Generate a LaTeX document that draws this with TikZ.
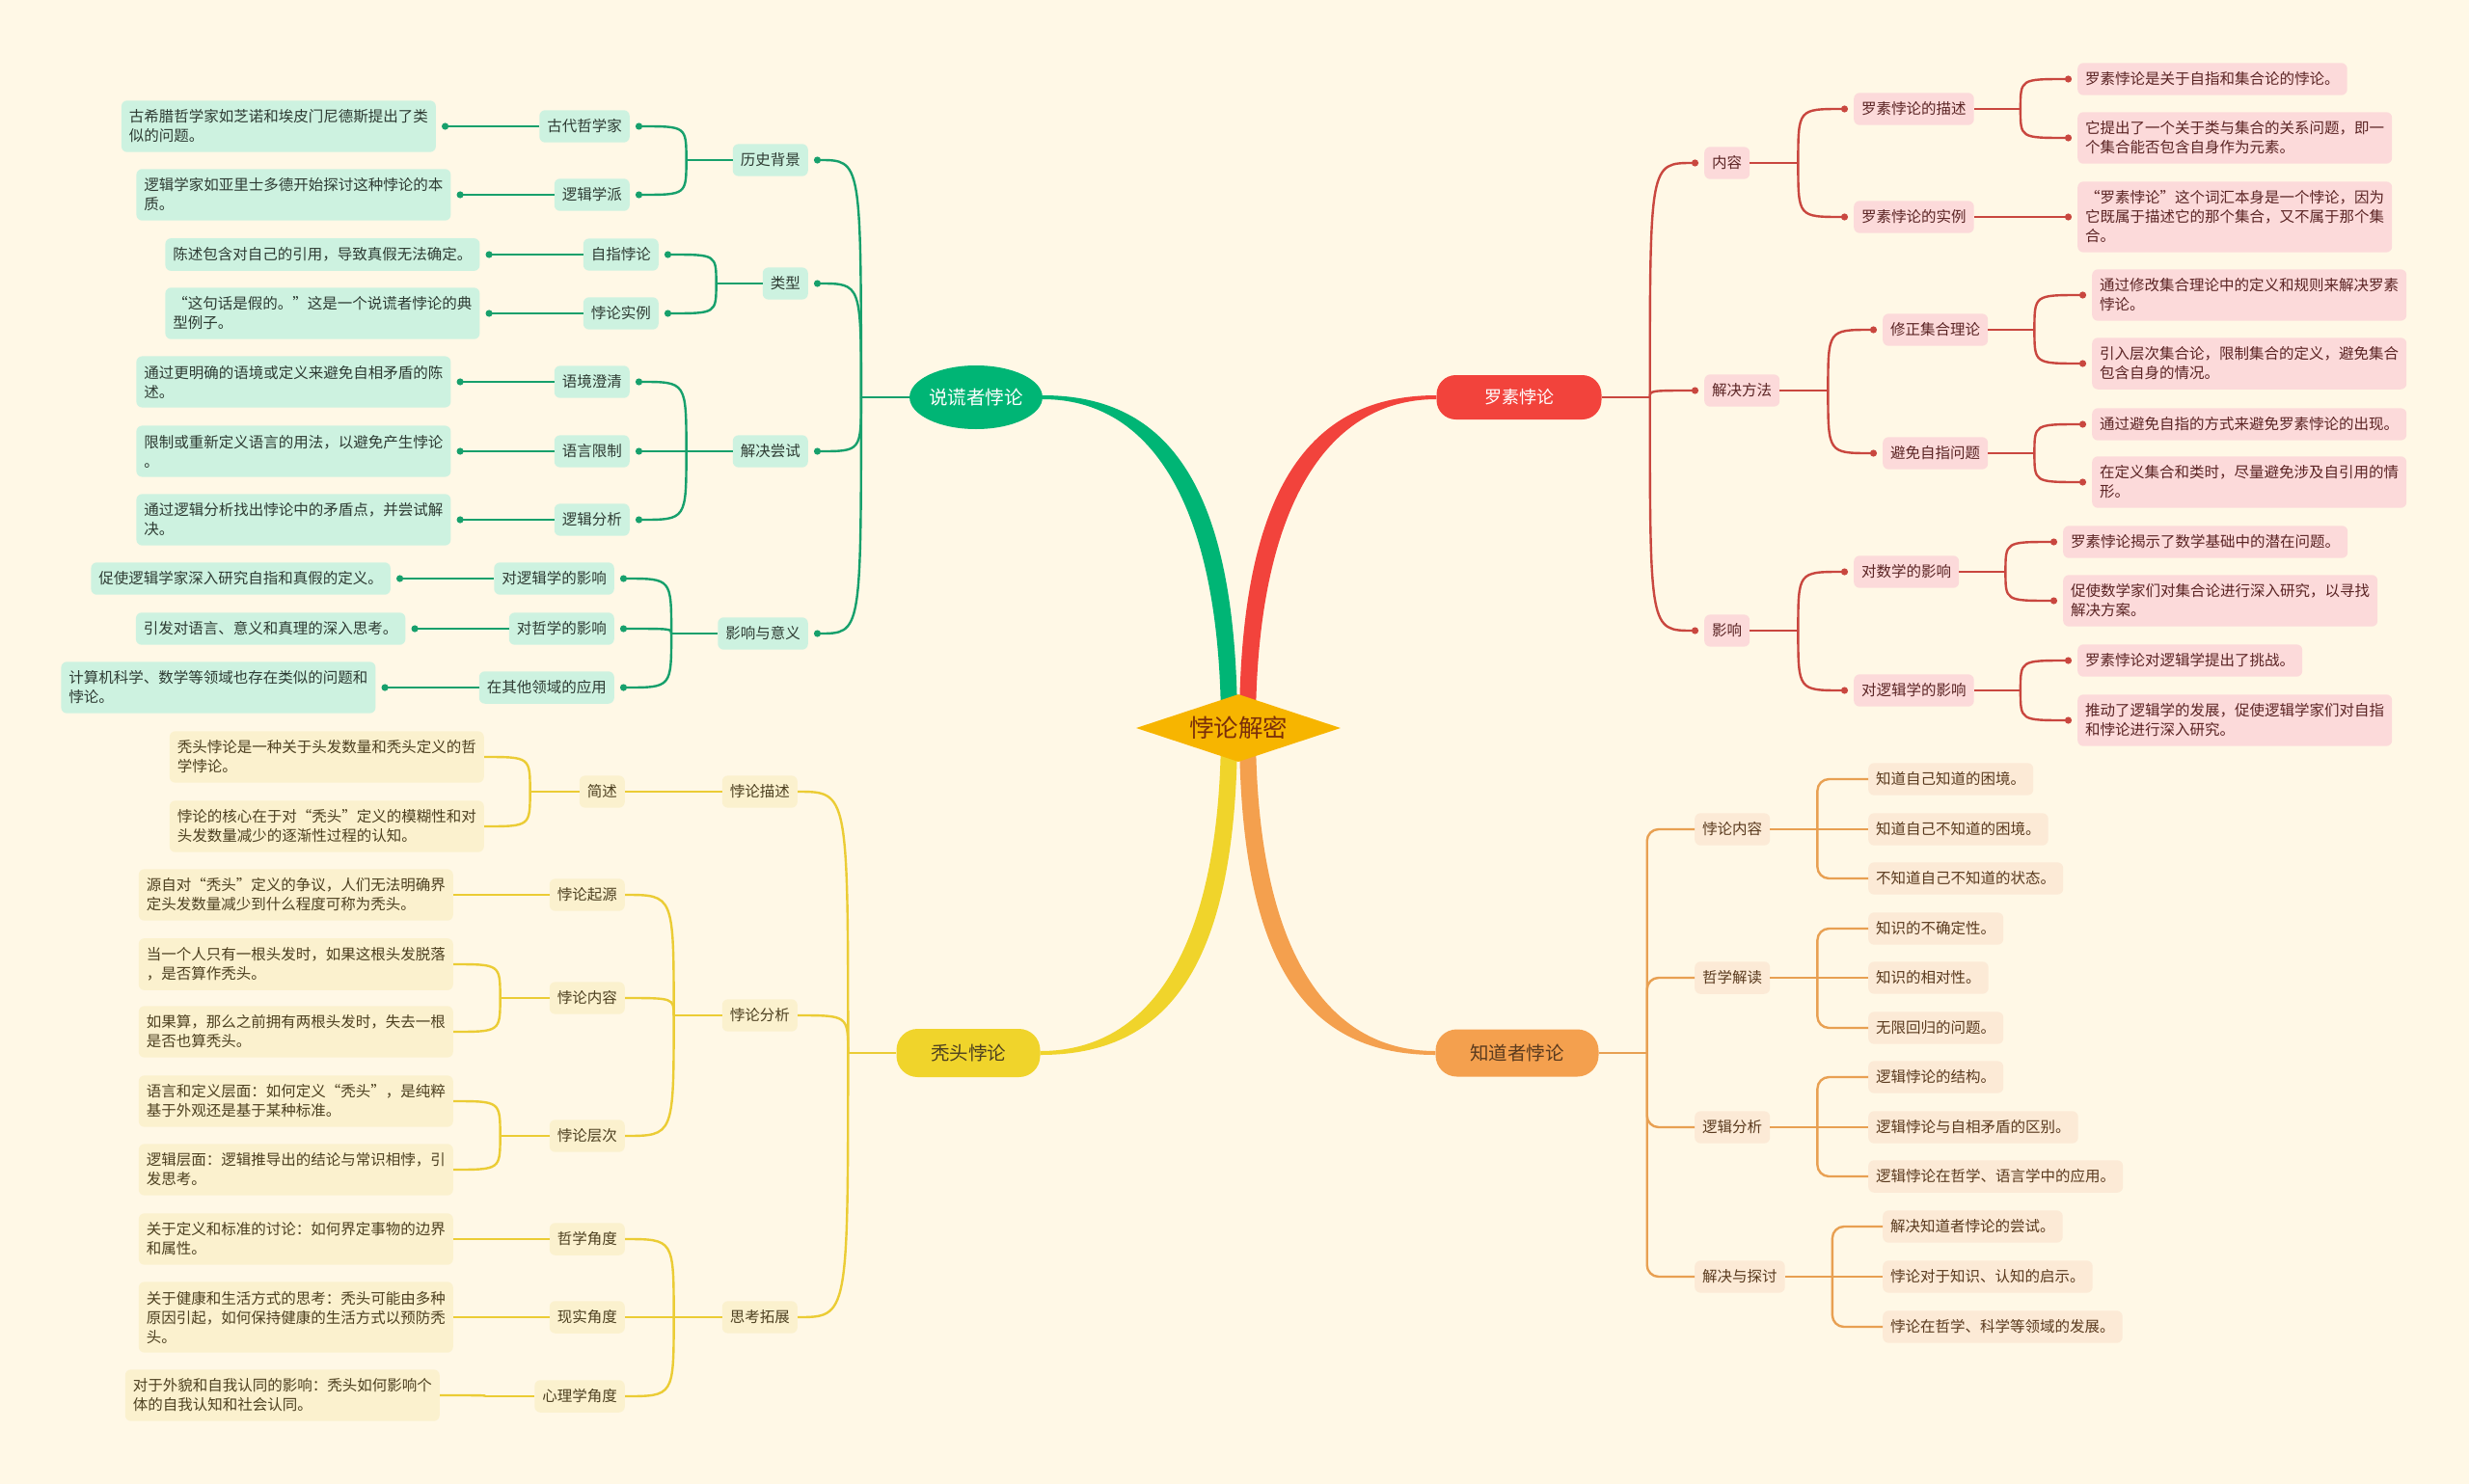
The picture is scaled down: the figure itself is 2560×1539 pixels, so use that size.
\documentclass[tikz,border=0pt]{standalone}
\usepackage{fontspec}
\setmainfont{Noto Sans CJK SC}
\usetikzlibrary{arrows.meta, positioning, calc, shapes.geometric}
\definecolor{fondo}{HTML}{FFF8E6}
\definecolor{centro}{HTML}{F7B500}
\definecolor{centrotxt}{HTML}{7A2E0A}
\definecolor{verde}{HTML}{00B575}
\definecolor{verdeln}{HTML}{17A06C}
\definecolor{verdeclaro}{HTML}{CDF2E0}
\definecolor{verdetxt}{HTML}{2E3B33}
\definecolor{rojo}{HTML}{F2433C}
\definecolor{rojoln}{HTML}{C9473F}
\definecolor{rojoclaro}{HTML}{FCDADA}
\definecolor{rojotxt}{HTML}{5B2424}
\definecolor{amarillo}{HTML}{F0D42B}
\definecolor{amarilloln}{HTML}{EBCC35}
\definecolor{amarilloclaro}{HTML}{FBF1CE}
\definecolor{amarillotxt}{HTML}{4D4020}
\definecolor{naranja}{HTML}{F4A04E}
\definecolor{naranjaln}{HTML}{E8A052}
\definecolor{naranjaclaro}{HTML}{FCEAD6}
\definecolor{naranjatxt}{HTML}{5A3A1E}
\tikzset{
  boxbase/.style={rounded corners=6pt, inner xsep=8pt, inner ysep=9.5pt, minimum height=33pt,
                  align=left, font=\fontsize{15.5}{20}\selectfont},
  gbox/.style={boxbase, fill=verdeclaro, text=verdetxt},
  rbox/.style={boxbase, fill=rojoclaro, text=rojotxt},
  ybox/.style={boxbase, fill=amarilloclaro, text=amarillotxt},
  obox/.style={boxbase, fill=naranjaclaro, text=naranjatxt},
  topic/.style={inner sep=0pt, font=\fontsize{19.5}{24}\selectfont},
  gline/.style={draw=verdeln, line width=2.4pt},
  rline/.style={draw=rojoln, line width=2.4pt},
  yline/.style={draw=amarilloln, line width=2.4pt},
  oline/.style={draw=naranjaln, line width=2.4pt},
  gdot/.style={-{Circle[length=7pt]}},
  rdot/.style={-{Circle[length=7pt]}},
}
\begin{document}
\begin{tikzpicture}[x=1pt, y=-1pt]
  \useasboundingbox (0,0) rectangle (2560,1539);
  \fill[fondo] (0,0) rectangle (2560,1539);
  \coordinate (c) at (1284,755);
  % ramas principales
  \node[topic, ellipse, fill=verde, text=white, minimum width=134pt, minimum height=66pt] (lsz) at (1012,412) {说谎者悖论};
  \node[topic, rounded corners=20pt, fill=rojo, text=white, minimum width=171pt, minimum height=46pt,
        font=\fontsize{18}{22}\selectfont] (ls) at (1575,412) {罗素悖论};
  \node[topic, rounded corners=22pt, fill=amarillo, text=amarillotxt, minimum width=149pt, minimum height=50pt] (tt) at (1004,1092) {秃头悖论};
  \node[topic, rounded corners=22pt, fill=naranja, text=naranjatxt, minimum width=169pt, minimum height=49pt] (zdz) at (1573,1092) {知道者悖论};
  \fill[verde] ($(c)+(-18,0)$) .. controls ($(c)+(-18,-225)$) and ($(lsz.east)+(116,2)$) .. ($(lsz.east)+(0,2)$)
    -- ($(lsz.east)+(0,-2)$) .. controls ($(lsz.east)+(131,-2)$) and ($(c)+(-1,-250)$) .. ($(c)+(-1,0)$) -- cycle;
  \fill[rojo] ($(c)+(18,0)$) .. controls ($(c)+(18,-225)$) and ($(ls.west)+(-116,2)$) .. ($(ls.west)+(0,2)$)
    -- ($(ls.west)+(0,-2)$) .. controls ($(ls.west)+(-131,-2)$) and ($(c)+(1,-250)$) .. ($(c)+(1,0)$) -- cycle;
  \fill[amarillo] ($(c)+(-18,0)$) .. controls ($(c)+(-18,225)$) and ($(tt.east)+(116,-2)$) .. ($(tt.east)+(0,-2)$)
    -- ($(tt.east)+(0,2)$) .. controls ($(tt.east)+(131,2)$) and ($(c)+(-1,250)$) .. ($(c)+(-1,0)$) -- cycle;
  \fill[naranja] ($(c)+(18,0)$) .. controls ($(c)+(18,225)$) and ($(zdz.west)+(-116,-2)$) .. ($(zdz.west)+(0,-2)$)
    -- ($(zdz.west)+(0,2)$) .. controls ($(zdz.west)+(-131,2)$) and ($(c)+(1,250)$) .. ($(c)+(1,0)$) -- cycle;
  \node[diamond, aspect=3, fill=centro, text=centrotxt, inner sep=0pt, minimum width=212pt, minimum height=70pt,
        font=\fontsize{25.5}{30}\selectfont] (cn) at (c) {悖论解密};

  % 说谎者悖论
  \foreach \n/\y/\t in {g1/166/历史背景, g2/294/类型, g3/468/解决尝试, g4/657/影响与意义}
    \node[gbox, anchor=east] (\n) at (838,\y) {\t};
  \foreach \n/\x/\y/\t in {g11/653/131/古代哲学家, g12/653/202/逻辑学派, g21/683/264/自指悖论, g22/683/325/悖论实例,
      g31/653/396/语境澄清, g32/653/468/语言限制, g33/653/539/逻辑分析,
      g41/637/600/对逻辑学的影响, g42/637/652/对哲学的影响, g43/637/713/在其他领域的应用}
    \node[gbox, anchor=east] (\n) at (\x,\y) {\t};
  \foreach \n/\t in {11/{古希腊哲学家如芝诺和埃皮门尼德斯提出了类\\似的问题。},
      12/{逻辑学家如亚里士多德开始探讨这种悖论的本\\质。},
      21/{陈述包含对自己的引用，导致真假无法确定。},
      22/{“这句话是假的。”这是一个说谎者悖论的典\\型例子。},
      31/{通过更明确的语境或定义来避免自相矛盾的陈\\述。},
      32/{限制或重新定义语言的用法，以避免产生悖论\\。},
      33/{通过逻辑分析找出悖论中的矛盾点，并尝试解\\决。},
      41/{促使逻辑学家深入研究自指和真假的定义。},
      42/{引发对语言、意义和真理的深入思考。},
      43/{计算机科学、数学等领域也存在类似的问题和\\悖论。}}
    \node[gbox, left=107pt of g\n] (gl\n) {\t};

  % 罗素悖论
  \foreach \n/\y/\t in {r1/169/内容, r2/405/解决方法, r3/654/影响}
    \node[rbox, anchor=west] (\n) at (1767,\y) {\t};
  \foreach \n/\x/\y/\t in {r11/1922/113/罗素悖论的描述, r12/1922/225/罗素悖论的实例, r21/1952/342/修正集合理论,
      r22/1952/470/避免自指问题, r31/1922/593/对数学的影响, r32/1922/716/对逻辑学的影响}
    \node[rbox, anchor=west] (\n) at (\x,\y) {\t};
  \foreach \n/\x/\y/\t in {rl111/2154/82/{罗素悖论是关于自指和集合论的悖论。},
      rl112/2154/143/{它提出了一个关于类与集合的关系问题，即一\\个集合能否包含自身作为元素。},
      rl121/2154/225/{“罗素悖论”这个词汇本身是一个悖论，因为\\它既属于描述它的那个集合，又不属于那个集\\合。},
      rl211/2169/306/{通过修改集合理论中的定义和规则来解决罗素\\悖论。},
      rl212/2169/377/{引入层次集合论，限制集合的定义，避免集合\\包含自身的情况。},
      rl221/2169/440/{通过避免自指的方式来避免罗素悖论的出现。},
      rl222/2169/500/{在定义集合和类时，尽量避免涉及自引用的情\\形。},
      rl311/2139/562/{罗素悖论揭示了数学基础中的潜在问题。},
      rl312/2139/623/{促使数学家们对集合论进行深入研究，以寻找\\解决方案。},
      rl321/2154/685/{罗素悖论对逻辑学提出了挑战。},
      rl322/2154/747/{推动了逻辑学的发展，促使逻辑学家们对自指\\和悖论进行深入研究。}}
    \node[rbox, anchor=west] (\n) at (\x,\y) {\t};

  % 秃头悖论
  \foreach \n/\y/\t in {y1/821/悖论描述, y2/1053/悖论分析, y3/1366/思考拓展}
    \node[ybox, anchor=east] (\n) at (827,\y) {\t};
  \foreach \n/\y/\t in {y11/821/简述, y21/928/悖论起源, y22/1035/悖论内容, y23/1178/悖论层次,
      y31/1285/哲学角度, y32/1366/现实角度, y33/1448/心理学角度}
    \node[ybox, anchor=east] (\n) at (648,\y) {\t};
  \foreach \n/\x/\y/\t in {yl111/502/785/{秃头悖论是一种关于头发数量和秃头定义的哲\\学悖论。},
      yl112/502/857/{悖论的核心在于对“秃头”定义的模糊性和对\\头发数量减少的逐渐性过程的认知。},
      yl211/470/928/{源自对“秃头”定义的争议，人们无法明确界\\定头发数量减少到什么程度可称为秃头。},
      yl221/470/1000/{当一个人只有一根头发时，如果这根头发脱落\\，是否算作秃头。},
      yl222/470/1070/{如果算，那么之前拥有两根头发时，失去一根\\是否也算秃头。},
      yl231/470/1142/{语言和定义层面：如何定义“秃头”，是纯粹\\基于外观还是基于某种标准。},
      yl232/470/1213/{逻辑层面：逻辑推导出的结论与常识相悖，引\\发思考。},
      yl311/470/1285/{关于定义和标准的讨论：如何界定事物的边界\\和属性。},
      yl321/470/1366/{关于健康和生活方式的思考：秃头可能由多种\\原因引起，如何保持健康的生活方式以预防秃\\头。},
      yl331/456/1447/{对于外貌和自我认同的影响：秃头如何影响个\\体的自我认知和社会认同。}}
    \node[ybox, anchor=east] (\n) at (\x,\y) {\t};

  % 知道者悖论
  \foreach \n/\y/\t in {o1/860/悖论内容, o2/1014/哲学解读, o3/1169/逻辑分析, o4/1324/解决与探讨}
    \node[obox, anchor=west] (\n) at (1757,\y) {\t};
  \foreach \n/\x/\y/\t in {ol11/1937/808/知道自己知道的困境。, ol12/1937/860/知道自己不知道的困境。,
      ol13/1937/911/不知道自己不知道的状态。, ol21/1937/963/知识的不确定性。, ol22/1937/1014/知识的相对性。,
      ol23/1937/1066/无限回归的问题。, ol31/1937/1117/逻辑悖论的结构。, ol32/1937/1169/逻辑悖论与自相矛盾的区别。,
      ol33/1937/1220/逻辑悖论在哲学、语言学中的应用。, ol41/1952/1272/解决知道者悖论的尝试。,
      ol42/1952/1324/悖论对于知识、认知的启示。, ol43/1952/1376/悖论在哲学、科学等领域的发展。}
    \node[obox, anchor=west] (\n) at (\x,\y) {\t};

  % conectores verdes
  \coordinate (gP) at ($(lsz.west)+(-50,0)$);
  \draw[gline] (lsz.west) -- (gP);
  \foreach \n in {g1,g2,g3,g4} \draw[gline, gdot] (gP) .. controls (gP |- \n) .. ($(\n.east)+(6,0)$);
  \foreach \p/\cs in {g1/{g11,g12}, g2/{g21,g22}, g3/{g31,g32,g33}, g4/{g41,g42,g43}} {
    \draw[gline] (\p.west) -- ++(-48,0) coordinate (gb);
    \foreach \c in \cs \draw[gline, gdot] (gb) .. controls (gb |- \c) .. ($(\c.east)+(6,0)$);
  }
  \foreach \i in {11,12,21,22,31,32,33,41,42,43} \draw[gline, gdot] (g\i.west) -- ($(gl\i.east)+(6,0)$);

  % conectores rojos
  \coordinate (rP) at ($(ls.east)+(50,0)$);
  \draw[rline] (ls.east) -- (rP);
  \foreach \n in {r1,r2,r3} \draw[rline, rdot] (rP) .. controls (rP |- \n) .. ($(\n.west)+(-6,0)$);
  \foreach \p/\cs in {r1/{r11,r12}, r2/{r21,r22}, r3/{r31,r32}} {
    \draw[rline] (\p.east) -- ++(50,0) coordinate (rb);
    \foreach \c in \cs \draw[rline, rdot] (rb) .. controls (rb |- \c) .. ($(\c.west)+(-6,0)$);
  }
  \foreach \p/\cs in {r11/{rl111,rl112}, r12/{rl121}, r21/{rl211,rl212}, r22/{rl221,rl222}, r31/{rl311,rl312}, r32/{rl321,rl322}} {
    \draw[rline] (\p.east) -- ++(48,0) coordinate (rb);
    \foreach \c in \cs \draw[rline, rdot] (rb) .. controls (rb |- \c) .. ($(\c.west)+(-6,0)$);
  }

  % conectores amarillos
  \coordinate (yP) at ($(tt.west)+(-50,0)$);
  \draw[yline] (tt.west) -- (yP);
  \foreach \n in {y1,y2,y3} \draw[yline] (yP) .. controls (yP |- \n) .. (\n.east);
  \foreach \p/\cs in {y1/{y11}, y2/{y21,y22,y23}, y3/{y31,y32,y33}} {
    \draw[yline] (\p.west) -- ++(-50,0) coordinate (yb);
    \foreach \c in \cs \draw[yline] (yb) .. controls (yb |- \c) .. (\c.east);
  }
  \foreach \p/\cs in {y11/{yl111,yl112}, y21/{yl211}, y22/{yl221,yl222}, y23/{yl231,yl232}, y31/{yl311}, y32/{yl321}, y33/{yl331}} {
    \draw[yline] (\p.west) -- ++(-51,0) coordinate (yb);
    \foreach \c in \cs \draw[yline] (yb) .. controls (yb |- \c) .. (\c.east);
  }

  % conectores naranjas
  \coordinate (oP) at ($(zdz.east)+(50,0)$);
  \draw[oline] (zdz.east) -- (oP);
  \foreach \n in {o1,o2,o3,o4} \draw[oline, rounded corners=12pt] (oP) |- (\n.west);
  \foreach \p/\a/\m/\z in {o1/ol11/ol12/ol13, o2/ol21/ol22/ol23, o3/ol31/ol32/ol33, o4/ol41/ol42/ol43} {
    \draw[oline] (\p.east) -- (\m.west);
    \draw[oline, rounded corners=12pt] (\a.west) -| ($(\p.east)+(49,0)$) |- (\z.west);
  }
\end{tikzpicture}
\end{document}
